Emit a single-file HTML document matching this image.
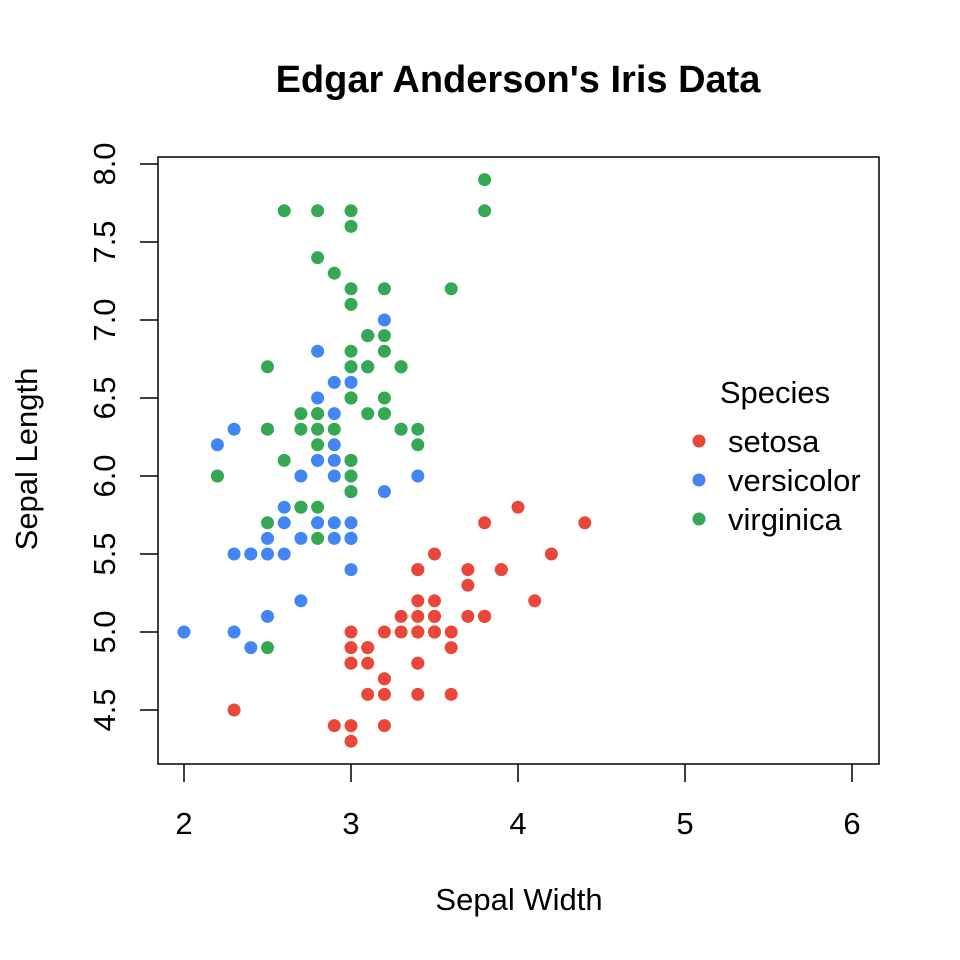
<!DOCTYPE html>
<html><head><meta charset="utf-8"><style>body{margin:0;background:#fff}svg{display:block}text{font-family:"Liberation Sans",sans-serif}</style></head>
<body>
<svg id="s" width="960" height="960" xmlns="http://www.w3.org/2000/svg">
<rect width="960" height="960" fill="#fff"/>
<text x="518" y="92" font-size="38" font-weight="bold" text-anchor="middle">Edgar Anderson's Iris Data</text>
<rect x="158" y="157" width="721" height="607" fill="none" stroke="#000" stroke-width="1.5"/>
<g stroke="#000" stroke-width="1.5">
<line x1="184" y1="764" x2="184" y2="782"/><line x1="351" y1="764" x2="351" y2="782"/><line x1="518" y1="764" x2="518" y2="782"/><line x1="685" y1="764" x2="685" y2="782"/><line x1="852" y1="764" x2="852" y2="782"/>
<line x1="158" y1="164" x2="140" y2="164"/><line x1="158" y1="242" x2="140" y2="242"/><line x1="158" y1="320" x2="140" y2="320"/><line x1="158" y1="398" x2="140" y2="398"/><line x1="158" y1="476" x2="140" y2="476"/><line x1="158" y1="554" x2="140" y2="554"/><line x1="158" y1="632" x2="140" y2="632"/><line x1="158" y1="710" x2="140" y2="710"/>
</g>
<g font-size="31" text-anchor="middle">
<text x="184" y="834">2</text><text x="351" y="834">3</text><text x="518" y="834">4</text><text x="685" y="834">5</text><text x="852" y="834">6</text>
<text transform="translate(115,164) rotate(-90)">8.0</text><text transform="translate(115,242) rotate(-90)">7.5</text><text transform="translate(115,320) rotate(-90)">7.0</text><text transform="translate(115,398) rotate(-90)">6.5</text><text transform="translate(115,476) rotate(-90)">6.0</text><text transform="translate(115,554) rotate(-90)">5.5</text><text transform="translate(115,632) rotate(-90)">5.0</text><text transform="translate(115,710) rotate(-90)">4.5</text>
<text x="519" y="910">Sepal Width</text>
<text transform="translate(37,459) rotate(-90)">Sepal Length</text>
<text x="775" y="403">Species</text>
</g>
<g font-size="31">
<text x="728" y="452">setosa</text><text x="728" y="491">versicolor</text><text x="728" y="530">virginica</text>
</g>
<circle cx="699" cy="441" r="6.5" fill="#E8473A"/><circle cx="699" cy="480" r="6.5" fill="#4285F4"/><circle cx="699" cy="519" r="6.5" fill="#34A853"/>
<g id="pts"></g>
</svg>
<script>
var d={"#E8473A":"5.1 3.5,4.9 3.0,4.7 3.2,4.6 3.1,5.0 3.6,5.4 3.9,4.6 3.4,5.0 3.4,4.4 2.9,4.9 3.1,5.4 3.7,4.8 3.4,4.8 3.0,4.3 3.0,5.8 4.0,5.7 4.4,5.4 3.9,5.1 3.5,5.7 3.8,5.1 3.8,5.4 3.4,5.1 3.7,4.6 3.6,5.1 3.3,4.8 3.4,5.0 3.0,5.0 3.4,5.2 3.5,5.2 3.4,4.7 3.2,4.8 3.1,5.4 3.4,5.2 4.1,5.5 4.2,4.9 3.1,5.0 3.2,5.5 3.5,4.9 3.6,4.4 3.0,5.1 3.4,5.0 3.5,4.5 2.3,4.4 3.2,5.0 3.5,5.1 3.8,4.8 3.0,5.1 3.8,4.6 3.2,5.3 3.7,5.0 3.3",
"#4285F4":"7.0 3.2,6.4 3.2,6.9 3.1,5.5 2.3,6.5 2.8,5.7 2.8,6.3 3.3,4.9 2.4,6.6 2.9,5.2 2.7,5.0 2.0,5.9 3.0,6.0 2.2,6.1 2.9,5.6 2.9,6.7 3.1,5.6 3.0,5.8 2.7,6.2 2.2,5.6 2.5,5.9 3.2,6.1 2.8,6.3 2.5,6.1 2.8,6.4 2.9,6.6 3.0,6.8 2.8,6.7 3.0,6.0 2.9,5.7 2.6,5.5 2.4,5.5 2.4,5.8 2.7,6.0 2.7,5.4 3.0,6.0 3.4,6.7 3.1,6.3 2.3,5.6 3.0,5.5 2.5,5.5 2.6,6.1 3.0,5.8 2.6,5.0 2.3,5.6 2.7,5.7 3.0,5.7 2.9,6.2 2.9,5.1 2.5,5.7 2.8",
"#34A853":"6.3 3.3,5.8 2.7,7.1 3.0,6.3 2.9,6.5 3.0,7.6 3.0,4.9 2.5,7.3 2.9,6.7 2.5,7.2 3.6,6.5 3.2,6.4 2.7,6.8 3.0,5.7 2.5,5.8 2.8,6.4 3.2,6.5 3.0,7.7 3.8,7.7 2.6,6.0 2.2,6.9 3.2,5.6 2.8,7.7 2.8,6.3 2.7,6.7 3.3,7.2 3.2,6.2 2.8,6.1 3.0,6.4 2.8,7.2 3.0,7.4 2.8,7.9 3.8,6.4 2.8,6.3 2.8,6.1 2.6,7.7 3.0,6.3 3.4,6.4 3.1,6.0 3.0,6.9 3.1,6.7 3.1,6.9 3.1,5.8 2.7,6.8 3.2,6.7 3.3,6.7 3.0,6.3 2.5,6.5 3.0,6.2 3.4,5.9 3.0"};
var h="";for(var c in d){d[c].split(",").forEach(function(p){var a=p.split(" "),l=+a[0],w=+a[1];h+='<circle cx="'+(184+(w-2)*167)+'" cy="'+(710-(l-4.5)*156)+'" r="6.5" fill="'+c+'"/>';});}
document.getElementById("pts").innerHTML=h;
</script>
</body></html>
